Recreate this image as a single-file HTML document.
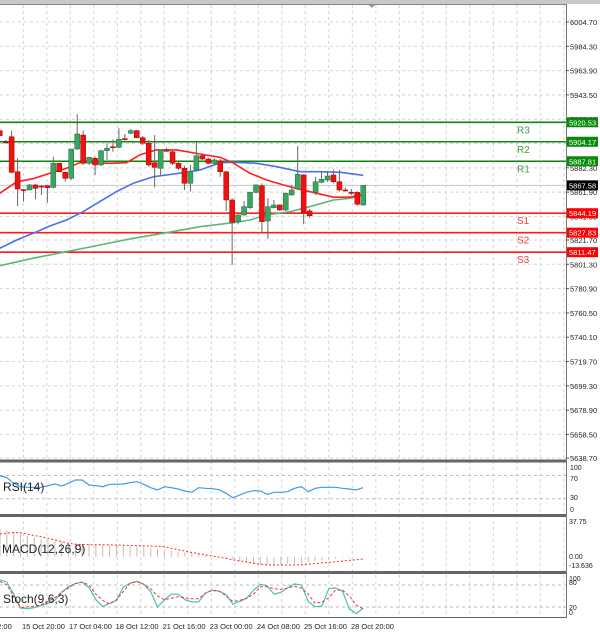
<!DOCTYPE html>
<html><head><meta charset="utf-8"><style>
html,body{margin:0;padding:0;background:#fff;}
svg{display:block;font-family:"Liberation Sans",sans-serif;}
</style></head><body>
<svg id="chart" width="600" height="633" viewBox="0 0 600 633" xmlns="http://www.w3.org/2000/svg">
<rect x="0" y="0" width="600" height="633" fill="#fff"/>
<rect x="0" y="0" width="600" height="4" fill="#c8c8c8"/>
<line x1="0" y1="4.5" x2="566" y2="4.5" stroke="#888" stroke-width="1"/>
<polygon points="369,5 375,5 372,8" fill="#999"/>
<g id="grid"></g>
<g id="levels"></g>
<g id="mas"></g>
<g id="candles"></g>
<g id="ind"></g>
<g id="axis"></g>
</svg>
<script>
// ---- data ----
const candleOpen=[5913.5,5904,5908.4,5879,5864,5863.7,5867.9,5867,5867.3,5865.9,5886.1,5878.5,5873.5,5898.1,5909.8,5886.1,5890.3,5884.7,5896.7,5900,5899.5,5906.8,5911.3,5913.5,5907.6,5902.9,5886.6,5881.9,5897.3,5895.8,5886.1,5881.9,5869.3,5880.5,5892.5,5889.7,5886.1,5888,5879,5855.3,5837.1,5842.7,5848.8,5861.7,5867.3,5837.7,5848.8,5851.1,5846.9,5859.5,5864.5,5876.3,5846.1,5861.7,5870.1,5872.1,5876.3,5870.6,5863.7,5861.7,5861.7,5851.1];
const candleClose=[5909.3,5903.5,5878.5,5864.5,5863.5,5867.9,5865.1,5866.5,5865.6,5886.1,5879,5873.5,5898.1,5910.7,5886.1,5891.1,5884.7,5896.7,5898.7,5899.5,5906.2,5906.5,5913.5,5907.6,5902.9,5884.7,5882.7,5897.3,5896.2,5886.1,5881.9,5869.3,5879,5892.5,5889.7,5886.1,5888.9,5879,5855.3,5836.6,5842.7,5849.7,5861.7,5867.9,5837.1,5849.7,5851.1,5846.9,5860.9,5863.7,5876.9,5845,5842.1,5870.6,5872.7,5875.4,5870.6,5863.7,5863,5860.9,5851.7,5867.6];
const candleHigh=[5914,5905.7,5913.5,5890.3,5864.5,5868.7,5868.7,5867.9,5867.9,5891.6,5886.6,5879,5898.1,5927.5,5913.5,5891.6,5891.6,5897.3,5902.9,5906.2,5915.5,5910.7,5914.9,5914,5909,5905.7,5909.8,5897.8,5899,5896.7,5887.4,5884.1,5884.7,5904.2,5893.6,5890.8,5890.3,5889.7,5879.6,5856.7,5843.3,5854.4,5862.3,5868.5,5869.3,5856.7,5855.3,5851.7,5861.7,5867.9,5900.6,5876.9,5847.7,5874.8,5879.6,5879.6,5880.5,5880.5,5865.6,5864.5,5862.8,5867.9];
const candleLow=[5909,5902.9,5877.7,5850.2,5853.9,5863.7,5855.9,5859.5,5853,5865.1,5878.5,5870.6,5872.1,5897.3,5884.7,5884.7,5876.3,5883.9,5888.9,5895.8,5898.7,5905.1,5910.7,5907.1,5901.4,5883.2,5865.9,5876.3,5895.6,5884.7,5880.5,5863.7,5862.3,5879,5888.9,5885.3,5884.7,5874.8,5846.1,5800.7,5834.9,5842.1,5847.7,5860.9,5827.3,5822.5,5848.3,5846.1,5846.1,5858.9,5863.7,5834.9,5840.4,5859.5,5869.3,5870.6,5869.3,5862.3,5862.3,5859.5,5850.5,5850.5];
const maFastIdx=[0,2.85,5.6,8.4,11.2,13.8,15.65,18.5,21.3,23.5,26.3,29.7,33.6,37,39.1,42,44.8,48.2,50.4,53.2,56,58.8,61];
const maFastVal=[5860.9,5870.6,5873.2,5877.7,5881.9,5887.4,5886.6,5886.1,5886.6,5893.1,5897.3,5897.3,5893.9,5891.1,5886.6,5877.7,5872.1,5867,5864.3,5860.9,5857.6,5857.6,5860.1];
const maMidIdx=[0,2.85,5.6,8.4,11.2,14,16.8,19.6,22.4,25.8,28,30.8,33.6,37,39.2,43.1,46.5,50.4,53.7,57.1,61];
const maMidVal=[5814.7,5821.7,5827.3,5833.5,5838.5,5845.5,5853.9,5862.3,5869.3,5874.8,5876.3,5878.2,5880.5,5886.6,5886.9,5886.1,5883.2,5879,5879,5878.5,5876];
const maSlowIdx=[0,5.6,11.2,16.8,22.4,28,33.6,39.2,42,44.8,48.7,52,56,58.8,61];
const maSlowVal=[5800.1,5806.4,5811.9,5817.5,5823.1,5827.8,5832.9,5836.2,5838.5,5842.7,5845.5,5849.7,5855.3,5856.7,5859.5];
const resistLabels=["R1","R2","R3"];
const resistValues=[5887.81,5904.17,5920.53];
const supportLabels=["S1","S2","S3"];
const supportValues=[5844.19,5827.83,5811.47];
const lastPrice=5867.58;
const priceTicks=[6004.70,5984.30,5963.90,5943.50,5923.10,5902.70,5882.30,5861.90,5841.50,5821.70,5801.30,5780.90,5760.50,5740.10,5719.70,5699.30,5678.90,5658.50,5638.70];
const dateLabels=["12:00","15 Oct 20:00","17 Oct 04:00","18 Oct 12:00","21 Oct 16:00","23 Oct 00:00","24 Oct 08:00","25 Oct 16:00","28 Oct 20:00"];
const rsiValues=[69.7,66.2,56.5,50.7,49.7,49.7,49.7,52.4,55.3,51.9,56.5,62.2,62.2,53.6,52.4,50.7,54.8,54.8,55.3,57.6,59.3,54.8,49,45,50.7,49,46.7,43.3,41,49,47.9,47.2,45.5,39.3,31.7,36.4,41,43.8,43.3,37.6,41,41,42,47.9,50.7,42,47.9,49.7,49.7,49.7,47.9,46.7,45,49];
const macdHist=[32,30,28,26,24,22,20,19,18,17,16,15,14,14,13,13,13,13,12,12,12,11,10,9,8,7,6,5,4,3,2,1,0,-1,-3,-5,-7,-8,-9,-9,-9,-9,-8,-8,-7,-6,-5,-4,-3,-2,-1,-1,0,0];
const macdSignal=[25.6,26.5,27.3,27,25.5,24,22.6,20.8,19,17.2,15.4,14,13.8,13.7,13.5,13.4,13.3,13.2,13,12.7,12.5,12.2,12,11.7,11.4,9.5,8,6.3,4.8,3.5,2.1,0.8,-0.5,-1.9,-3.5,-4.8,-6,-7.2,-8.5,-9.4,-9.4,-9.4,-9.4,-9.4,-9.2,-8.5,-7.8,-7,-6.4,-5.8,-4.9,-4.2,-3.5,-2.6];
const stochK=[94,88,55,17,15,18,24,30,38,60,75,84,88,73,40,21,30,38,74,85,90,82,62,20,39,55,55,40,34,34,58,66,63,54,28,35,44,65,82,78,55,60,72,83,80,35,21,22,70,72,63,15,2,16];
const stochD=[90,80,50,18,20,22,26,35,45,60,72,84,88,80,55,38,28,40,62,85,89,82,70,50,40,44,48,45,42,43,58,65,63,50,35,38,44,55,75,75,70,68,72,76,72,55,30,33,45,66,66,50,25,15];

// ---- scales ----
const NS="http://www.w3.org/2000/svg";
const AX=566;
function px(i){return i*5.96-0.3;}
function py(p){return 22+(6004.7-p)*1.1913;}
function ix(i,n){return i*(363/(n-1));}
function yRsi(v){return 498.7-(v-30)*0.58;}
function yMacd(v){return 556.7-v*0.885;}
function yStoch(v){return 614.3-v*0.366;}
function mk(tag,attrs,parent){const e=document.createElementNS(NS,tag);for(const k in attrs)e.setAttribute(k,attrs[k]);parent.appendChild(e);return e;}
const G=id=>document.getElementById(id);

// grid
const grid=G('grid');
for(let x=23.3;x<AX;x+=23.5){
  const l=mk('line',{x1:x,y1:5,x2:x,y2:617,stroke:'#d4d4d4','stroke-dasharray':'3,3','stroke-width':1},grid);
  
  
}
priceTicks.forEach(t=>{
  const l=mk('line',{x1:0,y1:py(t),x2:AX,y2:py(t),stroke:'#d4d4d4','stroke-dasharray':'3,3','stroke-width':1},grid);
  
  
});
const lp=mk('line',{x1:0,y1:py(lastPrice),x2:AX,y2:py(lastPrice),stroke:'#c8c8c8','stroke-width':1},grid);



// levels
const lv=G('levels');
function level(val,lab,col,txtCol,dy){
  const l=mk('line',{x1:0,y1:py(val),x2:AX,y2:py(val),stroke:col,'stroke-width':1.6},lv);
  
  
  const t=mk('text',{x:517,y:py(val)+dy,fill:txtCol,'font-size':10},lv);
  t.textContent=lab;
  
  
}
resistLabels.forEach((lab,i)=>level(resistValues[i],lab,'#0a870a','#3f9f3f',11));
supportLabels.forEach((lab,i)=>level(supportValues[i],lab,'#ff1a1a','#f04040',11));

// moving averages
const mg=G('mas');
function maLine(idx,val,col,name){
  const d=idx.map((x,i)=>(i?'L':'M')+px(x).toFixed(1)+','+py(val[i]).toFixed(1)).join(' ');
  const p=mk('path',{d:d,fill:'none',stroke:col,'stroke-width':1.6,'stroke-linejoin':'round'},mg);
  
  
}
maLine(maSlowIdx,maSlowVal,'#5cb87a','slow-moving-average');
maLine(maMidIdx,maMidVal,'#4a72e8','medium-moving-average');
maLine(maFastIdx,maFastVal,'#ff2020','fast-moving-average');

// candles
const cg=G('candles');
candleOpen.forEach((o,i)=>{
  const c=candleClose[i],x=px(i),up=c>=o;
  const w=mk('line',{x1:x,y1:py(candleHigh[i]),x2:x,y2:py(candleLow[i]),stroke:'#666','stroke-width':1},cg);
  
  
  const top=py(Math.max(o,c)),h=Math.max(1,py(Math.min(o,c))-top);
  const b=mk('rect',{x:x-2.5,y:top,width:5,height:h,fill:up?'#3aa560':'#ee1111',stroke:up?'#2a6a40':'#a00','stroke-width':0.5},cg);
  
  
});

// indicators
const ig=G('ind');
function sep(y){const r=mk('rect',{x:0,y:y-1.5,width:AX,height:3,fill:'#666'},ig);}
sep(461);sep(515.5);sep(572.5);
const bb=mk('line',{x1:0,y1:617.5,x2:AX,y2:617.5,stroke:'#666','stroke-width':1},ig);


[70,30].forEach(v=>{const l=mk('line',{x1:0,y1:yRsi(v),x2:AX,y2:yRsi(v),stroke:'#bbb','stroke-dasharray':'3,3'},ig);});
[80,20].forEach(v=>{const l=mk('line',{x1:0,y1:yStoch(v),x2:AX,y2:yStoch(v),stroke:'#bbb','stroke-dasharray':'3,3'},ig);});
function series(arr,yf,col,name,dash,w){
  const d=arr.map((v,i)=>(i?'L':'M')+ix(i,arr.length).toFixed(1)+','+yf(v).toFixed(1)).join(' ');
  const p=mk('path',{d:d,fill:'none',stroke:col,'stroke-width':w||1},ig);
  if(dash)p.setAttribute('stroke-dasharray',dash);
  
  
}
series(rsiValues,yRsi,'#3d9be9','rsi-line',null,1.2);
macdHist.forEach((v,i)=>{
  const x=ix(i,macdHist.length),y0=yMacd(0),y1=yMacd(v);
  const l=mk('line',{x1:x,y1:y0,x2:x,y2:y1,stroke:'#bdbdbd','stroke-width':1},ig);
  
  
});
series(macdSignal,yMacd,'#ff2a2a','macd-signal-line','2,2',1);
series(stochK,yStoch,'#48c4b0','stoch-k-line',null,1.2);
series(stochD,yStoch,'#ff3030','stoch-d-line','3,2',1);
function lab(t,x,y,name){const e=mk('text',{x:x,y:y,'font-size':12,fill:'#222'},ig);e.textContent=t;}
lab('RSI(14)',3,491,'rsi-label');
lab('MACD(12,26,9)',2,553,'macd-label');
lab('Stoch(9,6,3)',3,603,'stoch-label');

// axis
const ag=G('axis');
const al=mk('line',{x1:AX+0.5,y1:4,x2:AX+0.5,y2:618,stroke:'#777','stroke-width':1},ag);


function axText(t,x,y,name,size){const e=mk('text',{x:x,y:y,'font-size':size||7.5,fill:'#222'},ag);e.textContent=t;return e;}
priceTicks.forEach(t=>{
  const y=py(t);
  const k=mk('line',{x1:AX,y1:y,x2:AX+3,y2:y,stroke:'#555'},ag);
  
  
  axText(t.toFixed(2),570,y+3,'price-tick-label');
});
function tag(val,col,name){
  const y=py(val);
  const r=mk('rect',{x:567,y:y-5,width:31,height:10,fill:col},ag);
  
  
  const t=mk('text',{x:569,y:y+3,'font-size':7.5,fill:'#fff'},ag);
  t.textContent=val.toFixed(2);
  
  
}
resistValues.forEach(v=>tag(v,'#0a8a0a','resistance-price-tag'));
supportValues.forEach(v=>tag(v,'#ff0000','support-price-tag'));
tag(lastPrice,'#000','last-price-tag');
[["100",470],["70",481],["30",500],["0",512]].forEach(a=>axText(a[0],570,a[1],'rsi-axis-label',7));
[["37.75",524],["0.00",559],["-13.636",568]].forEach(a=>axText(a[0],569,a[1],'macd-axis-label',7));
[["100",581],["80",585],["20",610],["0",615]].forEach(a=>axText(a[0],569,a[1],'stoch-axis-label',7));
const dx=[-7,22,69,115.6,162.6,209.7,257,304,351];
dateLabels.forEach((d,i)=>{axText(d,dx[i],629,'date-axis-label',7.5);});
</script>
</body></html>
